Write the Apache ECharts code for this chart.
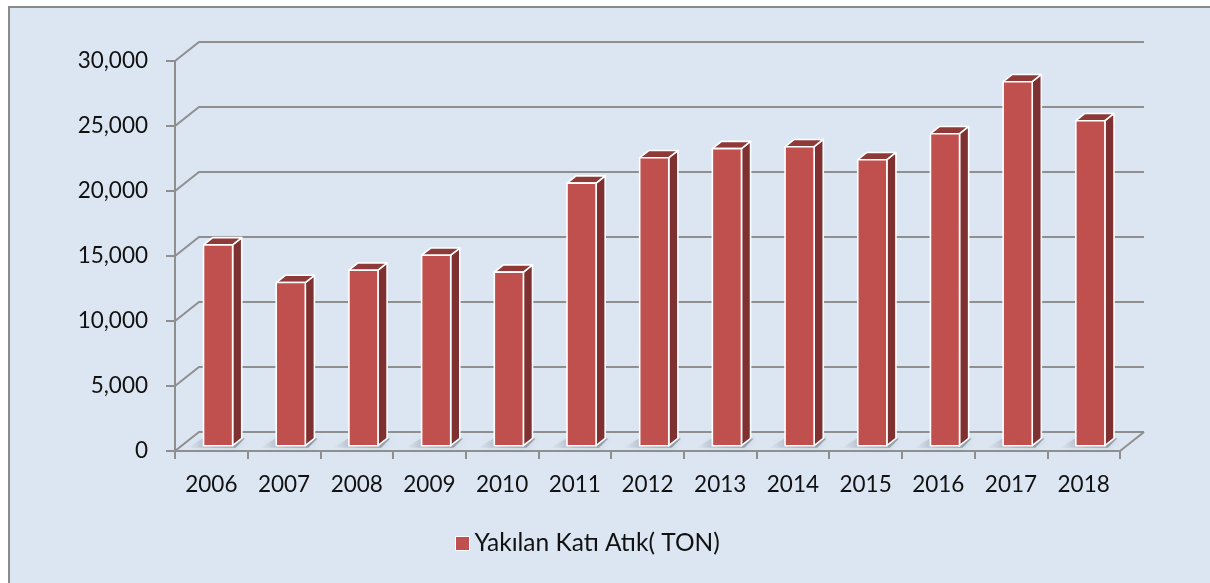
<!DOCTYPE html>
<html>
<head>
<meta charset="utf-8">
<script src="https://cdn.jsdelivr.net/npm/echarts@6/dist/echarts.min.js"></script>
<style>
  html, body { margin: 0; padding: 0; background: #ffffff; overflow: hidden; }
  #frame { position: absolute; left: 8px; top: 6px; width: 1300px; height: 700px;
           background: #DCE6F2; border: 2px solid #8a8a8a; }
  #chart { position: absolute; left: 0; top: 0; width: 1210px; height: 583px; }
</style>
</head>
<body>
<div id="frame"></div>
<div id="chart"></div>
<script>
// Yıllara göre yakılan katı atık miktarı (ton)
const years = ['2006', '2007', '2008', '2009', '2010', '2011', '2012',
               '2013', '2014', '2015', '2016', '2017', '2018'];
const burnedWaste = [15450, 12550, 13500, 14650, 13350, 20200, 22150,
                     22850, 23000, 22000, 24000, 28000, 25000];
const yTicks = [0, 5000, 10000, 15000, 20000, 25000, 30000];
const seriesName = 'Yakılan Katı Atık( TON)';

// perspective of the 3D plot box (pixels from front plane to back wall)
const DX = 24, DY = -19;
// bar front / back positions as a fraction of the box depth
const D1 = 0.28, D2 = 0.66;
const BAR_FRAC = 0.40;

const FRONT = '#C0504D', SIDE = '#7E3130', TOP = '#8E3A38';
const GRID_COLOR = '#8f8f8f';
const FONT = 'Lato';

const chart = echarts.init(document.getElementById('chart'), null, { renderer: 'canvas' });

function renderWall(params, api) {
  const cs = params.coordSys;
  const y = api.coord([0, api.value(1)])[1];
  const left = cs.x, right = cs.x + cs.width;
  const children = [{
    type: 'polyline',
    shape: { points: [[left, y], [left + DX, y + DY], [right + DX, y + DY]] },
    style: { stroke: GRID_COLOR, lineWidth: 2, fill: null }
  }];
  if (api.value(1) === 0) {
    children.push({
      type: 'line',
      shape: { x1: right, y1: y, x2: right + DX, y2: y + DY },
      style: { stroke: GRID_COLOR, lineWidth: 2 }
    });
  }
  return { type: 'group', children };
}

function renderShadow(params, api) {
  const idx = api.value(0);
  const base = api.coord([idx, 0]);
  const bw = api.size([1, 0])[0] * BAR_FRAC;
  const fx = base[0] - bw / 2 + D1 * DX;
  const fy0 = base[1] + D1 * DY;
  const ddx = (D2 - D1) * DX, ddy = (D2 - D1) * DY;
  // soft shadow cast on the floor, fading out to the left of the bar
  return {
    type: 'polygon',
    shape: { points: [
      [fx - 16, fy0 + 2], [fx + bw + 3, fy0 + 2],
      [fx + bw + ddx + 3, fy0 + ddy], [fx - 10 + ddx, fy0 + ddy]
    ] },
    style: {
      fill: {
        type: 'linear', x: 0, y: 0, x2: 1, y2: 0,
        colorStops: [
          { offset: 0, color: 'rgba(90,100,115,0)' },
          { offset: 0.45, color: 'rgba(90,100,115,0.35)' },
          { offset: 1, color: 'rgba(90,100,115,0.55)' }
        ]
      },
      shadowColor: 'rgba(90,100,115,0.35)',
      shadowBlur: 6
    }
  };
}

function renderBar(params, api) {
  const idx = api.value(0), v = api.value(1);
  const base = api.coord([idx, 0]);
  const top = api.coord([idx, v]);
  const bw = api.size([1, 0])[0] * BAR_FRAC;
  const fx = base[0] - bw / 2 + D1 * DX;
  const fy0 = base[1] + D1 * DY;
  const fy1 = top[1] + D1 * DY;
  const ddx = (D2 - D1) * DX, ddy = (D2 - D1) * DY;
  const edge = { stroke: '#ffffff', lineWidth: 1.6, lineJoin: 'round' };
  return {
    type: 'group',
    children: [
      {
        type: 'polygon',
        shape: { points: [[fx + bw, fy1], [fx + bw + ddx, fy1 + ddy], [fx + bw + ddx, fy0 + ddy], [fx + bw, fy0]] },
        style: Object.assign({ fill: SIDE }, edge)
      },
      {
        type: 'polygon',
        shape: { points: [[fx, fy1], [fx + ddx, fy1 + ddy], [fx + bw + ddx, fy1 + ddy], [fx + bw, fy1]] },
        style: Object.assign({ fill: TOP }, edge)
      },
      {
        type: 'rect',
        shape: { x: fx, y: fy1, width: bw, height: fy0 - fy1 },
        style: Object.assign({ fill: FRONT }, edge)
      }
    ]
  };
}

const option = {
  backgroundColor: 'transparent',
  animation: false,
  textStyle: { fontFamily: FONT },
  grid: { left: 175, right: 90, top: 61, bottom: 132 },
  legend: {
    data: [seriesName],
    left: 450, top: 526,
    icon: 'rect', itemWidth: 14, itemHeight: 14,
    itemStyle: { color: FRONT, borderColor: '#ffffff', borderWidth: 1 },
    textStyle: { fontFamily: FONT, fontSize: 24.5, color: '#111111' },
    selectedMode: false
  },
  xAxis: {
    type: 'category',
    data: years,
    boundaryGap: true,
    axisLine: { show: true, lineStyle: { color: GRID_COLOR, width: 2 } },
    axisTick: { show: true, interval: 0, length: 8, lineStyle: { color: GRID_COLOR, width: 2 } },
    axisLabel: { interval: 0, margin: 22, fontSize: 22.5, color: '#111111', fontFamily: FONT },
    splitLine: { show: false }
  },
  yAxis: {
    type: 'value',
    min: 0, max: 30000, interval: 5000,
    axisLine: { show: true, lineStyle: { color: GRID_COLOR, width: 2 } },
    axisTick: { show: true, length: 9, lineStyle: { color: GRID_COLOR, width: 2 } },
    axisLabel: {
      margin: 27, fontSize: 22.5, color: '#111111', fontFamily: FONT,
      formatter: v => v.toLocaleString('en-US')
    },
    splitLine: { show: false }
  },
  series: [
    {
      type: 'custom', name: 'wall', silent: true, z: 1,
      data: yTicks.map(v => [0, v]),
      renderItem: renderWall
    },
    {
      type: 'custom', name: 'floorShadow', silent: true, z: 2,
      data: burnedWaste.map((v, i) => [i, v]),
      renderItem: renderShadow
    },
    {
      type: 'custom', name: seriesName, silent: true, z: 3,
      itemStyle: { color: FRONT },
      data: burnedWaste.map((v, i) => [i, v]),
      renderItem: renderBar
    }
  ]
};
chart.setOption(option);
</script>
</body>
</html>
